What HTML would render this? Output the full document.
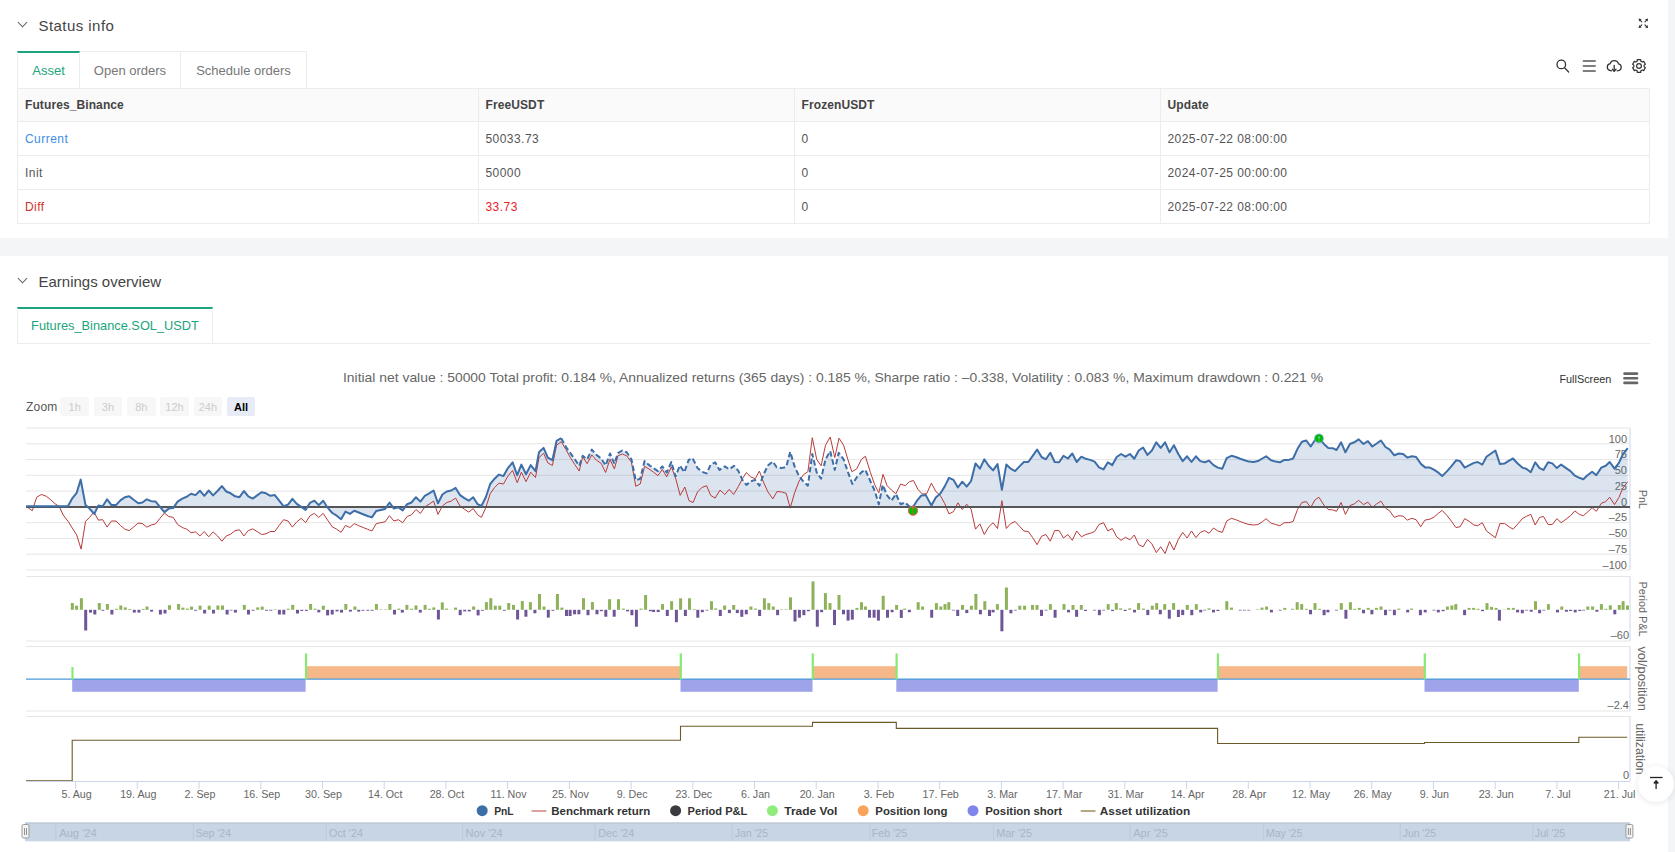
<!DOCTYPE html>
<html><head><meta charset="utf-8">
<style>
*{margin:0;padding:0;box-sizing:border-box}
html,body{width:1675px;height:852px;overflow:hidden;background:#fff;font-family:"Liberation Sans",sans-serif;color:#333}
.abs{position:absolute}
.strip{left:1668px;top:0;width:7px;height:852px;background:#f4f5f7}
.band{left:0;top:238px;width:1668px;height:18px;background:#f4f5f7}
.h{font-size:15px;letter-spacing:0.45px;color:#444;white-space:nowrap}
.chev{width:7px;height:7px;border-right:1.2px solid #666;border-bottom:1.2px solid #666;transform:rotate(45deg)}
.tab{top:51px;height:38px;border:1px solid #ececec;border-bottom:none;font-size:13px;color:#777;text-align:center;line-height:37px;white-space:nowrap}
.tab.act{border-top:2px solid #1aa57c;color:#1aa57c;line-height:35px}
table{position:absolute;left:17px;top:88px;width:1633px;border-collapse:collapse;font-size:12px;table-layout:fixed}
td{border:1px solid #ececec;height:34px;padding:0 0 0 7px;color:#555;white-space:nowrap;letter-spacing:0.45px}
tr.hd td{background:#fafafa;font-weight:bold;color:#444;height:33px;letter-spacing:0.1px}
svg text{font-family:"Liberation Sans",sans-serif}
.yl{font-size:11px;fill:#666}
.xl{font-size:10.7px;fill:#666}
.rt{font-size:12px;fill:#666}
.lg{font-size:11.5px;font-weight:bold;fill:#333}
.nv{font-size:11px;fill:#a9b6c6}
.zb{position:absolute;top:397px;height:19px;width:28.5px;background:#f7f7f7;border-radius:2px;font-size:11px;color:#ccc;text-align:center;line-height:21px}
</style></head><body>
<div class="abs strip"></div>
<div class="abs band"></div>

<div class="abs chev" style="left:19px;top:19px"></div>
<div class="abs h" style="left:38.5px;top:16.5px">Status info</div>
<div class="abs tab act" style="left:17px;width:63px">Asset</div>
<div class="abs tab" style="left:80px;width:101px;border-left:none">Open orders</div>
<div class="abs tab" style="left:181px;width:126px;border-left:none">Schedule orders</div>

<table>
<colgroup><col style="width:460.5px"><col style="width:316px"><col style="width:366px"><col></colgroup>
<tr class="hd"><td>Futures_Binance</td><td>FreeUSDT</td><td>FrozenUSDT</td><td>Update</td></tr>
<tr><td style="color:#3d8ee8">Current</td><td>50033.73</td><td>0</td><td>2025-07-22 08:00:00</td></tr>
<tr><td>Init</td><td>50000</td><td>0</td><td>2024-07-25 00:00:00</td></tr>
<tr><td style="color:#d0312d">Diff</td><td style="color:#e8202a">33.73</td><td>0</td><td>2025-07-22 08:00:00</td></tr>
</table>

<svg class="abs" style="left:1550px;top:10px" width="110" height="70">
<g fill="none" stroke="#333" stroke-width="1.1" stroke-linecap="round">
<line x1="89.6" y1="9.6" x2="91.8" y2="11.8"/><line x1="97.1" y1="9.6" x2="94.9" y2="11.8"/>
<line x1="89.6" y1="17.1" x2="91.8" y2="14.9"/><line x1="97.1" y1="17.1" x2="94.9" y2="14.9"/>
</g>
<g fill="#333"><path d="M88.6,8.6 l3,0.6 l-2.4,2.4z"/><path d="M98.1,8.6 l-3,0.6 l2.4,2.4z"/><path d="M88.6,18.1 l3,-0.6 l-2.4,-2.4z"/><path d="M98.1,18.1 l-3,-0.6 l2.4,-2.4z"/></g>
<g fill="none" stroke="#333" stroke-width="1.3" stroke-linecap="round">
<circle cx="11.3" cy="54.4" r="4.3"/><line x1="14.5" y1="57.6" x2="18.6" y2="62"/>
</g>
<g stroke="#555" stroke-width="1.5"><line x1="32.8" x2="45.7" y1="51" y2="51"/><line x1="32.8" x2="45.7" y1="56" y2="56"/><line x1="32.8" x2="45.7" y1="61" y2="61"/></g>
<g fill="none" stroke="#333" stroke-width="1.3" stroke-linecap="round" stroke-linejoin="round">
<path d="M61.6,60.8 C59,60.6 57.3,59 57.3,57 C57.3,55.2 58.6,53.9 60.2,53.6 C60.8,51.6 62.6,50.7 64.3,50.7 C66.4,50.7 68,52 68.5,53.9 C70.1,54.2 71.2,55.5 71.2,57.2 C71.2,59.1 69.6,60.6 67.2,60.8"/>
<line x1="64.2" y1="55.4" x2="64.2" y2="61"/><path d="M62.4,59.3 L64.2,61.2 L66,59.3"/>
</g>
<g fill="none" stroke="#333" stroke-width="1.2" stroke-linejoin="round">
<path d="M87.17,51.13 L87.30,49.62 L90.70,49.62 L90.83,51.13 L92.30,51.98 L93.68,51.34 L95.37,54.28 L94.13,55.15 L94.13,56.85 L95.37,57.72 L93.68,60.66 L92.30,60.02 L90.83,60.87 L90.70,62.38 L87.30,62.38 L87.17,60.87 L85.70,60.02 L84.32,60.66 L82.63,57.72 L83.87,56.85 L83.87,55.15 L82.63,54.28 L84.32,51.34 L85.70,51.98Z"/>
<circle cx="89" cy="56" r="2.4"/>
</g>
</svg>


<div class="abs chev" style="left:19px;top:275px"></div>
<div class="abs h" style="left:38.5px;top:273px;letter-spacing:0">Earnings overview</div>
<div class="abs" style="left:17px;top:343px;width:1633px;height:1px;background:#ececec"></div>
<div class="abs tab act" style="left:17px;top:307px;width:196px;height:36px;background:#fff;font-size:12.8px;letter-spacing:0;line-height:33px">Futures_Binance.SOL_USDT</div>

<div class="abs" style="left:26px;top:400px;font-size:12px;color:#555;letter-spacing:0.2px">Zoom</div>
<div class="zb" style="left:60.4px">1h</div>
<div class="zb" style="left:93.7px">3h</div>
<div class="zb" style="left:127px">8h</div>
<div class="zb" style="left:160.3px">12h</div>
<div class="zb" style="left:193.6px">24h</div>
<div class="zb" style="left:226.9px;background:#e6ebf5;color:#000;font-weight:bold">All</div>

<svg class="abs" style="left:0;top:0" width="1675" height="852">
<text x="343" y="382.2" font-size="13" fill="#666" textLength="980" lengthAdjust="spacingAndGlyphs">Initial net value : 50000 Total profit: 0.184 %, Annualized returns (365 days) : 0.185 %, Sharpe ratio : &#8211;0.338, Volatility : 0.083 %, Maximum drawdown : 0.221 %</text>
<text x="1559.4" y="383.2" font-size="11.5" fill="#333" textLength="52" lengthAdjust="spacingAndGlyphs">FullScreen</text>
<g stroke="#666" stroke-width="2.6" stroke-linecap="round"><line x1="1624.5" x2="1637" y1="373.6" y2="373.6"/><line x1="1624.5" x2="1637" y1="378.2" y2="378.2"/><line x1="1624.5" x2="1637" y1="382.9" y2="382.9"/></g>
<line x1="26" x2="1630" y1="428.0" y2="428.0" stroke="#e6e6e6" stroke-width="1"/>
<line x1="26" x2="1630" y1="443.8" y2="443.8" stroke="#e6e6e6" stroke-width="1"/>
<line x1="26" x2="1630" y1="459.6" y2="459.6" stroke="#e6e6e6" stroke-width="1"/>
<line x1="26" x2="1630" y1="475.3" y2="475.3" stroke="#e6e6e6" stroke-width="1"/>
<line x1="26" x2="1630" y1="491.1" y2="491.1" stroke="#e6e6e6" stroke-width="1"/>
<line x1="26" x2="1630" y1="522.7" y2="522.7" stroke="#e6e6e6" stroke-width="1"/>
<line x1="26" x2="1630" y1="538.5" y2="538.5" stroke="#e6e6e6" stroke-width="1"/>
<line x1="26" x2="1630" y1="554.2" y2="554.2" stroke="#e6e6e6" stroke-width="1"/>
<line x1="26" x2="1630" y1="570.0" y2="570.0" stroke="#e6e6e6" stroke-width="1"/>
<text x="1627" y="442.5" text-anchor="end" class="yl">100</text>
<text x="1627" y="458.3" text-anchor="end" class="yl">75</text>
<text x="1627" y="474.1" text-anchor="end" class="yl">50</text>
<text x="1627" y="489.8" text-anchor="end" class="yl">25</text>
<text x="1627" y="505.6" text-anchor="end" class="yl">0</text>
<text x="1627" y="521.4" text-anchor="end" class="yl">&#8211;25</text>
<text x="1627" y="537.2" text-anchor="end" class="yl">&#8211;50</text>
<text x="1627" y="553.0" text-anchor="end" class="yl">&#8211;75</text>
<text x="1627" y="568.7" text-anchor="end" class="yl">&#8211;100</text>
<line x1="26" x2="1630" y1="576.5" y2="576.5" stroke="#e6e6e6" stroke-width="1"/>
<line x1="26" x2="1630" y1="641" y2="641" stroke="#e6e6e6" stroke-width="1"/>
<line x1="26" x2="1630" y1="646.5" y2="646.5" stroke="#e6e6e6" stroke-width="1"/>
<line x1="26" x2="1630" y1="711" y2="711" stroke="#e6e6e6" stroke-width="1"/>
<line x1="26" x2="1630" y1="716.5" y2="716.5" stroke="#e6e6e6" stroke-width="1"/>
<line x1="1630" x2="1630" y1="428" y2="570" stroke="#ccd6eb" stroke-width="1"/>
<line x1="1630" x2="1630" y1="576.5" y2="641" stroke="#ccd6eb" stroke-width="1"/>
<line x1="1630" x2="1630" y1="646.5" y2="711" stroke="#ccd6eb" stroke-width="1"/>
<line x1="1630" x2="1630" y1="716.5" y2="781" stroke="#ccd6eb" stroke-width="1"/>
<polygon points="26.2,506.9 26.2,506.3 67.9,506.3 71.9,498.9 76.7,492.8 80.7,479.6 85.5,505.1 89.5,508.6 94.3,513.9 98.3,505.6 102.7,506.3 107.1,499.3 111.5,505.1 116.0,505.1 120.4,500.4 124.8,497.2 129.2,496.3 133.6,499.8 138.3,503.3 142.4,502.5 146.8,499.3 151.2,501.2 155.6,501.6 160.0,506.9 164.4,512.1 168.8,508.6 173.2,508.1 177.6,501.6 182.3,498.6 186.7,496.8 191.1,493.7 195.5,495.1 199.9,490.7 204.3,495.8 208.7,490.5 213.1,495.4 217.5,491.0 221.9,486.1 226.3,491.5 230.7,493.3 235.1,496.3 239.5,497.2 243.9,491.0 248.3,496.3 252.7,498.6 257.1,495.4 261.5,492.3 266.0,493.3 270.4,495.8 274.8,495.1 279.2,500.7 283.6,506.3 288.0,504.6 292.4,498.9 296.8,503.9 301.2,506.9 305.6,509.9 310.0,502.8 314.4,500.7 318.8,505.1 323.2,500.7 327.6,507.7 332.3,513.0 336.7,515.7 341.1,519.2 345.5,511.6 349.9,513.9 354.3,510.7 358.7,512.5 363.1,514.3 367.5,516.0 371.9,517.4 376.3,510.9 380.7,509.9 385.1,509.0 389.5,502.5 393.9,508.6 398.3,507.4 402.7,510.4 407.1,504.2 411.5,502.5 416.0,497.2 420.4,501.6 424.8,495.8 429.2,493.3 433.6,490.5 438.0,503.3 442.4,494.5 446.8,491.5 451.2,490.5 455.6,487.9 460.0,495.1 464.4,498.1 468.8,500.7 473.2,497.2 477.6,504.2 481.4,506.0 485.8,497.2 490.2,484.0 494.6,478.7 499.0,474.6 503.5,476.1 507.9,468.1 512.6,462.3 517.2,475.2 521.4,464.6 526.0,474.3 530.7,465.1 535.5,471.1 539.0,452.3 543.6,447.9 547.8,457.6 552.4,460.2 556.6,440.8 561.2,438.2 566.0,447.0 570.4,453.2 574.8,459.3 579.2,465.8 582.7,455.8 587.1,459.3 591.8,449.6 596.4,454.9 601.2,458.5 605.6,465.5 610.0,453.5 614.4,463.7 617.9,453.2 622.3,450.5 626.7,452.3 631.4,459.3 635.8,480.5 640.2,478.7 644.6,461.1 649.0,465.1 653.5,468.1 657.9,471.1 662.3,466.4 666.7,472.5 671.4,462.0 675.5,476.4 679.9,465.5 684.3,472.2 688.7,459.9 692.5,458.1 697.5,468.1 701.9,471.7 706.6,473.4 710.7,464.6 715.1,462.3 719.5,469.9 724.8,466.4 729.2,469.4 734.1,465.8 738.3,470.8 742.4,479.9 746.4,484.9 750.6,481.3 755.2,479.9 759.4,485.7 763.5,474.6 767.9,465.5 772.8,461.6 776.7,467.3 781.4,468.1 786.2,466.9 790.2,451.8 794.6,466.4 799.0,476.1 803.5,481.7 807.9,485.7 812.3,454.0 816.7,472.5 821.1,478.7 825.5,459.3 830.2,451.1 834.8,469.9 838.7,452.8 843.6,459.3 847.8,471.7 852.4,484.0 857.1,476.9 861.5,472.2 865.4,469.9 870.4,481.3 874.8,491.0 878.8,504.2 882.7,484.9 887.1,495.4 891.5,500.7 895.9,494.0 900.6,504.2 905.2,502.5 909.1,506.3 912.6,507.7 917.0,500.7 921.4,495.4 925.8,495.1 931.4,505.6 935.8,497.5 940.2,493.7 944.6,486.6 949.0,477.8 953.5,479.9 957.9,487.5 962.3,481.7 966.7,486.6 971.1,481.0 975.5,463.4 979.9,468.7 984.3,459.3 988.7,465.8 993.1,470.4 997.5,464.1 1001.9,489.8 1006.3,464.6 1010.7,468.7 1015.1,471.1 1019.5,466.4 1023.9,462.0 1028.3,462.0 1032.7,455.8 1037.1,449.6 1041.5,457.0 1045.9,459.3 1050.3,452.8 1054.7,462.0 1059.1,462.3 1063.5,455.8 1067.9,458.5 1072.3,453.5 1076.7,462.0 1081.4,456.7 1085.8,458.8 1090.2,459.9 1094.6,461.6 1099.0,467.3 1103.5,469.4 1107.9,462.3 1112.3,465.1 1116.7,457.0 1121.1,454.0 1125.5,456.7 1129.9,454.0 1134.3,458.8 1138.7,450.5 1143.1,447.5 1147.5,454.9 1151.9,450.5 1156.3,442.3 1160.7,447.9 1165.1,442.3 1169.5,452.3 1173.9,445.2 1178.3,454.0 1182.7,461.1 1187.1,456.3 1191.5,462.0 1195.9,456.3 1200.3,461.1 1204.7,462.3 1209.1,460.6 1213.5,465.1 1217.9,467.6 1222.3,468.7 1226.7,458.1 1231.4,455.8 1235.8,457.0 1240.2,458.8 1244.6,460.2 1249.0,461.6 1253.5,462.0 1257.9,461.1 1262.3,458.5 1266.1,456.3 1271.1,460.2 1275.5,461.6 1279.9,462.3 1284.3,459.9 1288.7,459.9 1293.1,458.5 1297.5,448.8 1301.9,441.7 1306.3,440.5 1310.7,446.5 1315.1,440.0 1319.5,438.2 1323.9,444.0 1328.3,447.9 1332.7,448.2 1336.5,450.0 1341.1,442.3 1345.4,452.3 1349.9,444.0 1354.2,442.3 1358.7,439.4 1363.5,444.0 1367.9,441.2 1372.3,446.5 1376.7,443.5 1380.9,440.5 1385.5,447.0 1389.7,449.6 1394.3,455.3 1399.0,453.5 1403.1,454.0 1407.3,457.6 1411.9,456.3 1416.1,457.0 1421.1,464.1 1425.5,467.6 1429.9,467.6 1434.3,469.9 1438.7,472.9 1442.2,476.1 1447.1,471.1 1451.3,466.4 1456.3,460.2 1460.1,461.1 1464.7,467.6 1469.5,465.1 1473.9,462.9 1477.7,462.0 1482.3,464.6 1486.5,456.7 1491.1,453.5 1495.4,450.5 1499.9,464.1 1504.7,463.4 1509.1,460.6 1513.0,458.5 1517.9,463.7 1522.3,467.6 1526.6,469.0 1530.8,472.2 1535.2,462.3 1539.6,468.1 1543.5,469.9 1548.1,462.3 1552.3,463.4 1556.9,468.1 1561.1,464.6 1566.1,468.1 1570.5,471.1 1574.9,475.7 1579.3,477.8 1583.3,479.2 1587.5,475.2 1592.1,471.7 1596.3,475.2 1601.3,467.6 1605.7,465.8 1609.7,462.0 1614.5,468.7 1618.9,462.9 1622.7,454.6 1627.7,448.2 1627.7,506.9" fill="#3d6ea8" fill-opacity="0.18"/>
<polyline points="26.2,506.3 32.3,510.7 36.7,497.2 41.5,494.5 46.4,496.3 50.8,499.8 55.2,503.9 59.1,506.3 63.1,514.8 68.4,521.8 72.8,528.9 76.7,535.0 81.1,549.1 85.5,521.5 89.5,517.4 93.9,512.1 98.3,520.1 102.7,519.7 107.1,527.1 111.5,521.0 116.0,521.0 120.4,525.4 124.8,529.2 129.2,530.6 133.6,527.1 138.0,523.1 142.4,523.6 146.8,527.1 151.2,525.0 155.6,523.9 160.0,518.3 164.4,513.0 168.8,516.5 173.2,517.4 177.6,524.5 182.3,527.5 186.7,529.2 191.1,532.7 195.5,531.9 199.9,535.9 204.3,531.5 208.7,536.8 213.1,531.9 217.5,535.9 221.9,541.2 226.3,535.9 230.7,534.2 235.1,530.6 239.5,529.8 243.9,535.9 248.3,530.6 252.7,528.9 257.1,531.5 261.5,534.5 266.0,533.8 270.4,531.5 274.8,531.5 279.2,525.4 283.6,519.7 288.0,521.0 292.4,527.1 296.8,521.8 301.2,518.3 305.6,522.7 310.0,515.7 314.4,513.4 318.8,517.4 323.2,513.4 327.6,520.1 332.3,526.8 336.7,529.2 341.1,532.4 345.5,525.4 349.9,527.5 354.3,523.6 358.7,525.7 363.1,527.5 367.5,529.2 371.9,531.0 376.3,523.6 380.7,522.7 385.1,521.8 389.5,515.7 393.9,521.0 398.3,519.7 402.7,522.7 407.1,516.5 411.5,514.8 416.0,509.5 420.4,513.4 424.8,506.9 429.2,504.2 433.6,501.1 438.0,514.4 442.4,506.0 446.8,502.5 451.2,501.1 455.6,498.1 460.0,506.0 464.4,509.2 468.8,512.1 473.2,508.6 477.6,514.8 481.4,517.4 485.8,507.7 490.2,493.7 494.6,487.5 499.0,483.1 503.5,484.0 507.9,476.1 512.6,470.4 517.2,482.7 521.4,472.2 526.0,481.7 530.7,472.2 535.5,477.5 539.0,457.6 543.6,453.2 547.8,462.9 552.4,465.5 556.6,445.2 561.2,441.7 566.0,449.6 570.4,457.6 574.8,464.6 579.2,471.1 582.7,456.7 587.1,463.7 591.8,454.9 596.4,460.2 601.2,463.4 605.6,472.5 610.0,459.3 614.4,469.0 617.9,455.8 622.3,454.0 626.7,455.8 631.4,462.0 635.8,486.3 640.2,484.0 644.6,466.4 649.0,469.0 653.5,472.2 657.9,475.7 662.3,469.4 666.7,476.9 671.4,466.9 675.5,477.8 680.2,495.4 684.8,487.0 689.0,500.7 693.1,502.5 697.5,491.9 701.9,487.5 706.6,485.7 710.7,495.4 715.1,498.1 720.0,490.1 724.8,494.5 729.2,489.3 733.6,494.5 738.3,486.6 742.4,478.7 746.4,472.5 750.6,476.9 755.2,478.7 759.4,471.1 763.5,482.2 767.9,491.9 772.8,498.9 777.0,491.5 781.4,491.9 786.2,493.3 790.2,508.1 794.6,492.8 799.0,481.3 803.5,474.6 807.9,471.7 812.3,437.7 816.7,459.3 821.1,465.8 825.5,445.2 830.2,437.0 834.8,457.6 839.0,438.2 843.6,445.2 847.8,459.3 851.9,471.7 856.6,469.0 861.5,459.3 865.4,456.3 870.4,472.5 874.8,484.9 878.8,492.8 883.0,474.3 887.1,485.7 891.5,490.1 895.9,493.7 900.6,484.0 905.2,485.7 909.4,481.7 913.5,480.5 917.9,489.3 922.3,494.0 926.7,493.7 931.4,483.1 935.8,491.5 940.2,495.4 944.6,503.3 949.0,513.9 953.5,511.6 957.9,502.8 962.3,509.5 966.7,504.2 971.1,509.2 975.5,529.2 979.9,523.9 984.3,534.5 988.7,526.8 993.1,522.7 997.5,528.5 1001.9,500.7 1006.3,528.5 1010.7,523.6 1015.1,521.5 1019.5,526.2 1023.9,531.0 1028.3,531.5 1032.7,537.7 1037.1,544.7 1041.5,536.3 1045.9,534.5 1050.3,541.2 1054.7,530.6 1059.1,530.6 1063.5,538.0 1067.9,534.5 1072.3,540.3 1076.7,531.0 1081.4,536.8 1085.8,534.5 1090.2,533.3 1094.6,531.5 1099.0,524.5 1103.5,522.7 1107.9,531.0 1112.3,528.5 1116.7,536.8 1121.1,540.3 1125.5,537.3 1129.9,539.8 1134.3,535.0 1138.7,544.7 1143.1,546.8 1147.5,539.4 1151.9,543.8 1156.3,552.6 1160.7,546.8 1165.1,553.5 1169.5,541.5 1173.9,550.0 1178.3,539.4 1182.7,532.4 1187.1,538.0 1191.5,531.0 1195.9,537.7 1200.3,532.4 1204.7,530.6 1209.1,533.3 1213.5,528.0 1217.9,531.0 1222.3,532.4 1226.7,521.0 1231.4,518.3 1235.8,519.7 1240.2,521.5 1244.6,523.2 1249.0,524.5 1253.5,525.0 1257.9,524.5 1262.3,521.8 1266.1,518.7 1271.1,523.2 1275.5,524.5 1279.9,525.7 1284.3,522.7 1288.7,522.7 1293.1,521.5 1297.5,509.5 1301.9,502.5 1306.3,501.6 1310.7,507.4 1315.1,499.8 1318.9,497.2 1323.9,505.1 1328.3,509.5 1332.7,509.9 1336.5,511.3 1341.1,502.5 1345.4,514.4 1349.9,505.6 1354.2,503.9 1358.7,500.4 1363.5,504.6 1367.9,502.1 1372.3,507.4 1376.7,503.9 1380.9,501.1 1385.5,508.1 1389.7,510.9 1394.3,517.4 1399.0,515.7 1403.1,516.2 1407.3,520.1 1411.9,518.3 1416.1,519.7 1420.7,526.8 1424.9,520.1 1429.9,519.2 1434.3,516.9 1438.7,513.0 1442.2,510.4 1447.1,515.7 1451.3,521.0 1455.9,527.5 1460.1,526.8 1464.7,518.7 1469.5,521.5 1473.9,525.0 1477.7,525.7 1482.3,522.7 1486.5,531.0 1491.1,534.5 1495.4,537.7 1499.9,523.6 1504.7,523.6 1509.1,526.8 1513.0,529.2 1517.9,523.9 1522.3,518.7 1526.6,516.2 1530.8,514.4 1535.2,525.0 1539.6,517.4 1543.5,516.5 1548.1,524.5 1552.3,524.5 1556.9,518.7 1561.1,522.7 1566.1,519.2 1570.5,515.7 1574.9,510.9 1579.3,514.4 1583.3,515.7 1587.5,512.1 1592.1,507.7 1596.3,511.3 1601.3,503.3 1605.7,501.6 1609.7,497.2 1614.5,504.6 1618.9,497.5 1622.7,488.4 1627.7,481.7" fill="none" stroke="#b83b3b" stroke-width="1"/>
<line x1="26" x2="1630" y1="506.9" y2="506.9" stroke="#555" stroke-width="2"/>
<polyline points="26.2,506.3 67.9,506.3 71.9,498.9 76.7,492.8 80.7,479.6 85.5,505.1 89.5,508.6 94.3,513.9 98.3,505.6 102.7,506.3 107.1,499.3 111.5,505.1 116.0,505.1 120.4,500.4 124.8,497.2 129.2,496.3 133.6,499.8 138.3,503.3 142.4,502.5 146.8,499.3 151.2,501.2 155.6,501.6 160.0,506.9 164.4,512.1 168.8,508.6 173.2,508.1 177.6,501.6 182.3,498.6 186.7,496.8 191.1,493.7 195.5,495.1 199.9,490.7 204.3,495.8 208.7,490.5 213.1,495.4 217.5,491.0 221.9,486.1 226.3,491.5 230.7,493.3 235.1,496.3 239.5,497.2 243.9,491.0 248.3,496.3 252.7,498.6 257.1,495.4 261.5,492.3 266.0,493.3 270.4,495.8 274.8,495.1 279.2,500.7 283.6,506.3 288.0,504.6 292.4,498.9 296.8,503.9 301.2,506.9 305.6,509.9 310.0,502.8 314.4,500.7 318.8,505.1 323.2,500.7 327.6,507.7 332.3,513.0 336.7,515.7 341.1,519.2 345.5,511.6 349.9,513.9 354.3,510.7 358.7,512.5 363.1,514.3 367.5,516.0 371.9,517.4 376.3,510.9 380.7,509.9 385.1,509.0 389.5,502.5 393.9,508.6 398.3,507.4 402.7,510.4 407.1,504.2 411.5,502.5 416.0,497.2 420.4,501.6 424.8,495.8 429.2,493.3 433.6,490.5 438.0,503.3 442.4,494.5 446.8,491.5 451.2,490.5 455.6,487.9 460.0,495.1 464.4,498.1 468.8,500.7 473.2,497.2 477.6,504.2 481.4,506.0 485.8,497.2 490.2,484.0 494.6,478.7 499.0,474.6 503.5,476.1 507.9,468.1 512.6,462.3 517.2,475.2 521.4,464.6 526.0,474.3 530.7,465.1 535.5,471.1 539.0,452.3 543.6,447.9 547.8,457.6 552.4,460.2 556.6,440.8 561.2,438.2" fill="none" stroke="#3d6ea8" stroke-width="2" stroke-linejoin="round"/>
<polyline points="561.2,438.2 566.0,447.0 570.4,453.2 574.8,459.3 579.2,465.8 582.7,455.8 587.1,459.3 591.8,449.6 596.4,454.9 601.2,458.5 605.6,465.5 610.0,453.5 614.4,463.7 617.9,453.2 622.3,450.5 626.7,452.3 631.4,459.3 635.8,480.5 640.2,478.7 644.6,461.1 649.0,465.1 653.5,468.1 657.9,471.1 662.3,466.4 666.7,472.5 671.4,462.0 675.5,476.4 679.9,465.5 684.3,472.2 688.7,459.9 692.5,458.1 697.5,468.1 701.9,471.7 706.6,473.4 710.7,464.6 715.1,462.3 719.5,469.9 724.8,466.4 729.2,469.4 734.1,465.8 738.3,470.8 742.4,479.9 746.4,484.9 750.6,481.3 755.2,479.9 759.4,485.7 763.5,474.6 767.9,465.5 772.8,461.6 776.7,467.3 781.4,468.1 786.2,466.9 790.2,451.8 794.6,466.4 799.0,476.1 803.5,481.7 807.9,485.7 812.3,454.0 816.7,472.5 821.1,478.7 825.5,459.3 830.2,451.1 834.8,469.9 838.7,452.8 843.6,459.3 847.8,471.7 852.4,484.0 857.1,476.9 861.5,472.2 865.4,469.9 870.4,481.3 874.8,491.0 878.8,504.2 882.7,484.9 887.1,495.4 891.5,500.7 895.9,494.0 900.6,504.2 905.2,502.5 909.1,506.3 912.6,507.7" fill="none" stroke="#3d6ea8" stroke-width="2" stroke-linejoin="round" stroke-dasharray="5.5,2.8"/>
<polyline points="912.6,507.7 917.0,500.7 921.4,495.4 925.8,495.1 931.4,505.6 935.8,497.5 940.2,493.7 944.6,486.6 949.0,477.8 953.5,479.9 957.9,487.5 962.3,481.7 966.7,486.6 971.1,481.0 975.5,463.4 979.9,468.7 984.3,459.3 988.7,465.8 993.1,470.4 997.5,464.1 1001.9,489.8 1006.3,464.6 1010.7,468.7 1015.1,471.1 1019.5,466.4 1023.9,462.0 1028.3,462.0 1032.7,455.8 1037.1,449.6 1041.5,457.0 1045.9,459.3 1050.3,452.8 1054.7,462.0 1059.1,462.3 1063.5,455.8 1067.9,458.5 1072.3,453.5 1076.7,462.0 1081.4,456.7 1085.8,458.8 1090.2,459.9 1094.6,461.6 1099.0,467.3 1103.5,469.4 1107.9,462.3 1112.3,465.1 1116.7,457.0 1121.1,454.0 1125.5,456.7 1129.9,454.0 1134.3,458.8 1138.7,450.5 1143.1,447.5 1147.5,454.9 1151.9,450.5 1156.3,442.3 1160.7,447.9 1165.1,442.3 1169.5,452.3 1173.9,445.2 1178.3,454.0 1182.7,461.1 1187.1,456.3 1191.5,462.0 1195.9,456.3 1200.3,461.1 1204.7,462.3 1209.1,460.6 1213.5,465.1 1217.9,467.6 1222.3,468.7 1226.7,458.1 1231.4,455.8 1235.8,457.0 1240.2,458.8 1244.6,460.2 1249.0,461.6 1253.5,462.0 1257.9,461.1 1262.3,458.5 1266.1,456.3 1271.1,460.2 1275.5,461.6 1279.9,462.3 1284.3,459.9 1288.7,459.9 1293.1,458.5 1297.5,448.8 1301.9,441.7 1306.3,440.5 1310.7,446.5 1315.1,440.0 1319.5,438.2 1323.9,444.0 1328.3,447.9 1332.7,448.2 1336.5,450.0 1341.1,442.3 1345.4,452.3 1349.9,444.0 1354.2,442.3 1358.7,439.4 1363.5,444.0 1367.9,441.2 1372.3,446.5 1376.7,443.5 1380.9,440.5 1385.5,447.0 1389.7,449.6 1394.3,455.3 1399.0,453.5 1403.1,454.0 1407.3,457.6 1411.9,456.3 1416.1,457.0 1421.1,464.1 1425.5,467.6 1429.9,467.6 1434.3,469.9 1438.7,472.9 1442.2,476.1 1447.1,471.1 1451.3,466.4 1456.3,460.2 1460.1,461.1 1464.7,467.6 1469.5,465.1 1473.9,462.9 1477.7,462.0 1482.3,464.6 1486.5,456.7 1491.1,453.5 1495.4,450.5 1499.9,464.1 1504.7,463.4 1509.1,460.6 1513.0,458.5 1517.9,463.7 1522.3,467.6 1526.6,469.0 1530.8,472.2 1535.2,462.3 1539.6,468.1 1543.5,469.9 1548.1,462.3 1552.3,463.4 1556.9,468.1 1561.1,464.6 1566.1,468.1 1570.5,471.1 1574.9,475.7 1579.3,477.8 1583.3,479.2 1587.5,475.2 1592.1,471.7 1596.3,475.2 1601.3,467.6 1605.7,465.8 1609.7,462.0 1614.5,468.7 1618.9,462.9 1622.7,454.6 1627.7,448.2" fill="none" stroke="#3d6ea8" stroke-width="2" stroke-linejoin="round"/>
<circle cx="913" cy="510.7" r="4.6" fill="#00c000" stroke="#ff4a60" stroke-width="1"/>
<line x1="913" x2="913" y1="507" y2="515" stroke="#b06a30" stroke-width="1"/>
<circle cx="913" cy="507.8" r="0.9" fill="#ff4a60"/>
<circle cx="1319" cy="438.4" r="4.5" fill="#00bb00" stroke="#8fb0ff" stroke-width="0.7"/>
<line x1="1319" x2="1319" y1="437" y2="442.5" stroke="#6cc86c" stroke-width="0.8"/>
<circle cx="1319" cy="437.3" r="0.9" fill="#9ab8ff"/>
<rect x="70.8" y="603.0" width="3" height="6.8" fill="#8db25a"/>
<rect x="75.1" y="605.7" width="3" height="4.1" fill="#8db25a"/>
<rect x="79.9" y="598.2" width="3" height="11.6" fill="#8db25a"/>
<rect x="84.2" y="609.8" width="3" height="20.7" fill="#6e5596"/>
<rect x="89.0" y="609.8" width="3" height="2.8" fill="#6e5596"/>
<rect x="93.3" y="609.8" width="3" height="4.7" fill="#6e5596"/>
<rect x="97.8" y="603.0" width="3" height="6.8" fill="#8db25a"/>
<rect x="101.4" y="609.8" width="3" height="0.9" fill="#6e5596"/>
<rect x="105.9" y="604.0" width="3" height="5.8" fill="#8db25a"/>
<rect x="110.4" y="609.8" width="3" height="4.7" fill="#6e5596"/>
<rect x="115.0" y="608.8" width="3" height="1.0" fill="#8db25a"/>
<rect x="119.3" y="605.5" width="3" height="4.3" fill="#8db25a"/>
<rect x="123.8" y="607.4" width="3" height="2.4" fill="#8db25a"/>
<rect x="128.3" y="609.0" width="3" height="0.8" fill="#8db25a"/>
<rect x="132.8" y="609.8" width="3" height="2.8" fill="#6e5596"/>
<rect x="137.4" y="609.8" width="3" height="2.8" fill="#6e5596"/>
<rect x="141.7" y="609.0" width="3" height="0.8" fill="#8db25a"/>
<rect x="145.5" y="606.5" width="3" height="3.3" fill="#8db25a"/>
<rect x="150.1" y="609.8" width="3" height="1.8" fill="#6e5596"/>
<rect x="158.9" y="609.8" width="3" height="4.7" fill="#6e5596"/>
<rect x="163.5" y="609.8" width="3" height="3.7" fill="#6e5596"/>
<rect x="168.0" y="605.2" width="3" height="4.6" fill="#8db25a"/>
<rect x="177.1" y="604.0" width="3" height="5.8" fill="#8db25a"/>
<rect x="181.4" y="607.6" width="3" height="2.2" fill="#8db25a"/>
<rect x="185.9" y="608.6" width="3" height="1.2" fill="#8db25a"/>
<rect x="190.0" y="606.6" width="3" height="3.2" fill="#8db25a"/>
<rect x="194.1" y="609.8" width="3" height="0.9" fill="#6e5596"/>
<rect x="198.6" y="605.7" width="3" height="4.1" fill="#8db25a"/>
<rect x="203.1" y="609.8" width="3" height="3.7" fill="#6e5596"/>
<rect x="207.7" y="605.7" width="3" height="4.1" fill="#8db25a"/>
<rect x="212.0" y="609.8" width="3" height="3.7" fill="#6e5596"/>
<rect x="216.4" y="605.5" width="3" height="4.3" fill="#8db25a"/>
<rect x="221.0" y="605.5" width="3" height="4.3" fill="#8db25a"/>
<rect x="225.6" y="609.8" width="3" height="4.7" fill="#6e5596"/>
<rect x="229.6" y="609.8" width="3" height="0.7" fill="#6e5596"/>
<rect x="233.9" y="609.8" width="3" height="2.8" fill="#6e5596"/>
<rect x="242.8" y="604.9" width="3" height="4.9" fill="#8db25a"/>
<rect x="247.0" y="609.8" width="3" height="4.7" fill="#6e5596"/>
<rect x="251.6" y="609.8" width="3" height="0.9" fill="#6e5596"/>
<rect x="256.2" y="607.4" width="3" height="2.4" fill="#8db25a"/>
<rect x="260.7" y="606.6" width="3" height="3.2" fill="#8db25a"/>
<rect x="265.0" y="609.8" width="3" height="0.9" fill="#6e5596"/>
<rect x="269.3" y="609.8" width="3" height="0.9" fill="#6e5596"/>
<rect x="273.6" y="609.3" width="3" height="0.5" fill="#8db25a"/>
<rect x="277.9" y="609.8" width="3" height="4.7" fill="#6e5596"/>
<rect x="282.3" y="609.8" width="3" height="4.7" fill="#6e5596"/>
<rect x="286.7" y="608.7" width="3" height="1.1" fill="#8db25a"/>
<rect x="291.2" y="604.9" width="3" height="4.9" fill="#8db25a"/>
<rect x="296.0" y="609.8" width="3" height="3.7" fill="#6e5596"/>
<rect x="300.3" y="609.8" width="3" height="1.1" fill="#6e5596"/>
<rect x="304.9" y="609.8" width="3" height="1.1" fill="#6e5596"/>
<rect x="309.1" y="604.0" width="3" height="5.8" fill="#8db25a"/>
<rect x="313.5" y="608.7" width="3" height="1.1" fill="#8db25a"/>
<rect x="317.3" y="609.8" width="3" height="2.6" fill="#6e5596"/>
<rect x="321.8" y="605.7" width="3" height="4.1" fill="#8db25a"/>
<rect x="326.1" y="609.8" width="3" height="5.6" fill="#6e5596"/>
<rect x="330.7" y="609.8" width="3" height="4.7" fill="#6e5596"/>
<rect x="335.5" y="609.8" width="3" height="1.6" fill="#6e5596"/>
<rect x="340.0" y="609.8" width="3" height="2.8" fill="#6e5596"/>
<rect x="344.3" y="604.0" width="3" height="5.8" fill="#8db25a"/>
<rect x="348.9" y="609.8" width="3" height="1.8" fill="#6e5596"/>
<rect x="353.4" y="606.5" width="3" height="3.3" fill="#8db25a"/>
<rect x="357.2" y="609.8" width="3" height="1.8" fill="#6e5596"/>
<rect x="361.5" y="609.8" width="3" height="0.9" fill="#6e5596"/>
<rect x="366.3" y="609.8" width="3" height="0.9" fill="#6e5596"/>
<rect x="370.6" y="609.8" width="3" height="0.9" fill="#6e5596"/>
<rect x="374.9" y="604.0" width="3" height="5.8" fill="#8db25a"/>
<rect x="379.4" y="609.3" width="3" height="0.5" fill="#8db25a"/>
<rect x="383.9" y="609.3" width="3" height="0.5" fill="#8db25a"/>
<rect x="388.4" y="604.0" width="3" height="5.8" fill="#8db25a"/>
<rect x="393.0" y="609.8" width="3" height="4.7" fill="#6e5596"/>
<rect x="397.3" y="608.6" width="3" height="1.2" fill="#8db25a"/>
<rect x="400.8" y="609.8" width="3" height="2.8" fill="#6e5596"/>
<rect x="405.4" y="604.9" width="3" height="4.9" fill="#8db25a"/>
<rect x="410.0" y="608.7" width="3" height="1.1" fill="#8db25a"/>
<rect x="414.5" y="605.5" width="3" height="4.3" fill="#8db25a"/>
<rect x="418.8" y="609.8" width="3" height="2.8" fill="#6e5596"/>
<rect x="423.6" y="604.9" width="3" height="4.9" fill="#8db25a"/>
<rect x="427.9" y="608.7" width="3" height="1.1" fill="#8db25a"/>
<rect x="432.3" y="607.4" width="3" height="2.4" fill="#8db25a"/>
<rect x="436.9" y="609.8" width="3" height="9.7" fill="#6e5596"/>
<rect x="440.8" y="602.4" width="3" height="7.4" fill="#8db25a"/>
<rect x="445.1" y="608.6" width="3" height="1.2" fill="#8db25a"/>
<rect x="449.8" y="609.7" width="3" height="0.1" fill="#8db25a"/>
<rect x="454.1" y="607.6" width="3" height="2.2" fill="#8db25a"/>
<rect x="458.7" y="609.8" width="3" height="5.4" fill="#6e5596"/>
<rect x="463.2" y="609.8" width="3" height="1.6" fill="#6e5596"/>
<rect x="467.7" y="609.8" width="3" height="1.6" fill="#6e5596"/>
<rect x="472.1" y="606.5" width="3" height="3.3" fill="#8db25a"/>
<rect x="476.6" y="609.8" width="3" height="5.6" fill="#6e5596"/>
<rect x="480.9" y="609.8" width="3" height="0.9" fill="#6e5596"/>
<rect x="484.9" y="602.1" width="3" height="7.7" fill="#8db25a"/>
<rect x="489.3" y="598.2" width="3" height="11.6" fill="#8db25a"/>
<rect x="493.8" y="605.7" width="3" height="4.1" fill="#8db25a"/>
<rect x="498.3" y="605.7" width="3" height="4.1" fill="#8db25a"/>
<rect x="502.9" y="609.8" width="3" height="0.9" fill="#6e5596"/>
<rect x="507.2" y="603.0" width="3" height="6.8" fill="#8db25a"/>
<rect x="512.0" y="604.9" width="3" height="4.9" fill="#8db25a"/>
<rect x="516.1" y="609.8" width="3" height="9.7" fill="#6e5596"/>
<rect x="520.8" y="601.1" width="3" height="8.7" fill="#8db25a"/>
<rect x="524.4" y="609.8" width="3" height="6.9" fill="#6e5596"/>
<rect x="528.9" y="602.1" width="3" height="7.7" fill="#8db25a"/>
<rect x="533.4" y="609.8" width="3" height="3.5" fill="#6e5596"/>
<rect x="538.0" y="594.0" width="3" height="15.8" fill="#8db25a"/>
<rect x="542.5" y="606.5" width="3" height="3.3" fill="#8db25a"/>
<rect x="546.8" y="609.8" width="3" height="7.8" fill="#6e5596"/>
<rect x="551.4" y="609.8" width="3" height="0.9" fill="#6e5596"/>
<rect x="555.9" y="594.0" width="3" height="15.8" fill="#8db25a"/>
<rect x="560.4" y="607.6" width="3" height="2.2" fill="#8db25a"/>
<rect x="565.0" y="609.8" width="3" height="6.2" fill="#6e5596"/>
<rect x="568.6" y="609.8" width="3" height="6.2" fill="#6e5596"/>
<rect x="573.1" y="609.8" width="3" height="4.5" fill="#6e5596"/>
<rect x="577.4" y="609.8" width="3" height="4.5" fill="#6e5596"/>
<rect x="582.0" y="598.2" width="3" height="11.6" fill="#8db25a"/>
<rect x="586.5" y="609.8" width="3" height="5.4" fill="#6e5596"/>
<rect x="590.9" y="602.1" width="3" height="7.7" fill="#8db25a"/>
<rect x="595.5" y="609.8" width="3" height="4.5" fill="#6e5596"/>
<rect x="599.8" y="609.8" width="3" height="1.4" fill="#6e5596"/>
<rect x="604.3" y="609.8" width="3" height="6.9" fill="#6e5596"/>
<rect x="608.1" y="599.2" width="3" height="10.6" fill="#8db25a"/>
<rect x="612.7" y="609.8" width="3" height="6.9" fill="#6e5596"/>
<rect x="617.0" y="599.2" width="3" height="10.6" fill="#8db25a"/>
<rect x="621.8" y="608.6" width="3" height="1.2" fill="#8db25a"/>
<rect x="626.1" y="609.8" width="3" height="1.6" fill="#6e5596"/>
<rect x="630.4" y="609.8" width="3" height="5.4" fill="#6e5596"/>
<rect x="634.9" y="609.8" width="3" height="16.9" fill="#6e5596"/>
<rect x="639.5" y="608.6" width="3" height="1.2" fill="#8db25a"/>
<rect x="644.1" y="595.0" width="3" height="14.8" fill="#8db25a"/>
<rect x="648.9" y="609.8" width="3" height="1.4" fill="#6e5596"/>
<rect x="652.1" y="609.8" width="3" height="2.2" fill="#6e5596"/>
<rect x="656.7" y="609.8" width="3" height="2.2" fill="#6e5596"/>
<rect x="661.0" y="604.1" width="3" height="5.7" fill="#8db25a"/>
<rect x="665.8" y="609.8" width="3" height="6.2" fill="#6e5596"/>
<rect x="670.1" y="601.2" width="3" height="8.6" fill="#8db25a"/>
<rect x="674.9" y="609.8" width="3" height="12.4" fill="#6e5596"/>
<rect x="679.1" y="598.3" width="3" height="11.5" fill="#8db25a"/>
<rect x="683.9" y="609.8" width="3" height="6.2" fill="#6e5596"/>
<rect x="688.0" y="598.3" width="3" height="11.5" fill="#8db25a"/>
<rect x="692.8" y="609.1" width="3" height="0.7" fill="#8db25a"/>
<rect x="696.3" y="609.8" width="3" height="7.9" fill="#6e5596"/>
<rect x="700.8" y="609.8" width="3" height="2.4" fill="#6e5596"/>
<rect x="705.4" y="609.8" width="3" height="0.7" fill="#6e5596"/>
<rect x="710.0" y="601.2" width="3" height="8.6" fill="#8db25a"/>
<rect x="714.2" y="608.4" width="3" height="1.4" fill="#8db25a"/>
<rect x="718.8" y="609.8" width="3" height="6.2" fill="#6e5596"/>
<rect x="723.1" y="605.5" width="3" height="4.3" fill="#8db25a"/>
<rect x="727.9" y="609.8" width="3" height="3.3" fill="#6e5596"/>
<rect x="732.2" y="605.0" width="3" height="4.8" fill="#8db25a"/>
<rect x="735.8" y="609.8" width="3" height="3.3" fill="#6e5596"/>
<rect x="740.3" y="609.8" width="3" height="7.0" fill="#6e5596"/>
<rect x="744.8" y="609.8" width="3" height="4.5" fill="#6e5596"/>
<rect x="749.4" y="606.5" width="3" height="3.3" fill="#8db25a"/>
<rect x="753.9" y="608.6" width="3" height="1.2" fill="#8db25a"/>
<rect x="758.1" y="609.8" width="3" height="6.2" fill="#6e5596"/>
<rect x="762.9" y="598.3" width="3" height="11.5" fill="#8db25a"/>
<rect x="767.3" y="603.1" width="3" height="6.7" fill="#8db25a"/>
<rect x="771.8" y="606.5" width="3" height="3.3" fill="#8db25a"/>
<rect x="776.1" y="609.8" width="3" height="5.4" fill="#6e5596"/>
<rect x="780.0" y="609.3" width="3" height="0.5" fill="#8db25a"/>
<rect x="784.5" y="609.3" width="3" height="0.5" fill="#8db25a"/>
<rect x="789.0" y="597.4" width="3" height="12.4" fill="#8db25a"/>
<rect x="793.5" y="609.8" width="3" height="11.7" fill="#6e5596"/>
<rect x="797.9" y="609.8" width="3" height="7.9" fill="#6e5596"/>
<rect x="802.4" y="609.8" width="3" height="5.4" fill="#6e5596"/>
<rect x="806.9" y="609.8" width="3" height="1.4" fill="#6e5596"/>
<rect x="811.5" y="581.4" width="3" height="28.4" fill="#8db25a"/>
<rect x="815.8" y="609.8" width="3" height="16.9" fill="#6e5596"/>
<rect x="820.1" y="609.8" width="3" height="2.4" fill="#6e5596"/>
<rect x="823.9" y="593.1" width="3" height="16.7" fill="#8db25a"/>
<rect x="828.5" y="603.1" width="3" height="6.7" fill="#8db25a"/>
<rect x="833.0" y="609.8" width="3" height="15.3" fill="#6e5596"/>
<rect x="837.5" y="595.0" width="3" height="14.8" fill="#8db25a"/>
<rect x="842.0" y="609.8" width="3" height="4.5" fill="#6e5596"/>
<rect x="846.6" y="609.8" width="3" height="10.8" fill="#6e5596"/>
<rect x="850.8" y="609.8" width="3" height="9.8" fill="#6e5596"/>
<rect x="855.4" y="607.9" width="3" height="1.9" fill="#8db25a"/>
<rect x="860.0" y="602.2" width="3" height="7.6" fill="#8db25a"/>
<rect x="864.0" y="606.5" width="3" height="3.3" fill="#8db25a"/>
<rect x="868.0" y="609.8" width="3" height="7.9" fill="#6e5596"/>
<rect x="872.6" y="609.8" width="3" height="7.9" fill="#6e5596"/>
<rect x="876.9" y="609.8" width="3" height="10.8" fill="#6e5596"/>
<rect x="881.7" y="595.8" width="3" height="14.0" fill="#8db25a"/>
<rect x="886.0" y="609.8" width="3" height="7.9" fill="#6e5596"/>
<rect x="890.6" y="609.8" width="3" height="2.4" fill="#6e5596"/>
<rect x="895.1" y="605.0" width="3" height="4.8" fill="#8db25a"/>
<rect x="899.8" y="609.8" width="3" height="8.1" fill="#6e5596"/>
<rect x="903.2" y="608.6" width="3" height="1.2" fill="#8db25a"/>
<rect x="907.9" y="609.8" width="3" height="2.4" fill="#6e5596"/>
<rect x="916.7" y="602.2" width="3" height="7.6" fill="#8db25a"/>
<rect x="921.1" y="606.5" width="3" height="3.3" fill="#8db25a"/>
<rect x="930.2" y="609.8" width="3" height="7.9" fill="#6e5596"/>
<rect x="934.9" y="603.1" width="3" height="6.7" fill="#8db25a"/>
<rect x="939.3" y="606.5" width="3" height="3.3" fill="#8db25a"/>
<rect x="943.5" y="604.1" width="3" height="5.7" fill="#8db25a"/>
<rect x="947.3" y="602.2" width="3" height="7.6" fill="#8db25a"/>
<rect x="951.9" y="609.8" width="3" height="0.7" fill="#6e5596"/>
<rect x="956.2" y="609.8" width="3" height="6.2" fill="#6e5596"/>
<rect x="961.0" y="605.0" width="3" height="4.8" fill="#8db25a"/>
<rect x="965.3" y="609.8" width="3" height="3.3" fill="#6e5596"/>
<rect x="969.9" y="605.7" width="3" height="4.1" fill="#8db25a"/>
<rect x="974.4" y="594.0" width="3" height="15.8" fill="#8db25a"/>
<rect x="978.9" y="609.8" width="3" height="4.5" fill="#6e5596"/>
<rect x="983.3" y="601.2" width="3" height="8.6" fill="#8db25a"/>
<rect x="988.0" y="609.8" width="3" height="6.2" fill="#6e5596"/>
<rect x="991.6" y="609.8" width="3" height="2.6" fill="#6e5596"/>
<rect x="995.9" y="604.1" width="3" height="5.7" fill="#8db25a"/>
<rect x="1000.4" y="609.8" width="3" height="21.5" fill="#6e5596"/>
<rect x="1004.9" y="587.5" width="3" height="22.3" fill="#8db25a"/>
<rect x="1009.4" y="609.8" width="3" height="3.5" fill="#6e5596"/>
<rect x="1013.8" y="609.8" width="3" height="0.7" fill="#6e5596"/>
<rect x="1018.3" y="605.7" width="3" height="4.1" fill="#8db25a"/>
<rect x="1023.1" y="605.7" width="3" height="4.1" fill="#8db25a"/>
<rect x="1031.0" y="605.0" width="3" height="4.8" fill="#8db25a"/>
<rect x="1035.5" y="605.0" width="3" height="4.8" fill="#8db25a"/>
<rect x="1040.0" y="609.8" width="3" height="6.2" fill="#6e5596"/>
<rect x="1044.6" y="609.8" width="3" height="0.7" fill="#6e5596"/>
<rect x="1048.9" y="604.1" width="3" height="5.7" fill="#8db25a"/>
<rect x="1053.6" y="609.8" width="3" height="7.9" fill="#6e5596"/>
<rect x="1062.5" y="604.1" width="3" height="5.7" fill="#8db25a"/>
<rect x="1067.0" y="609.8" width="3" height="2.6" fill="#6e5596"/>
<rect x="1071.5" y="605.0" width="3" height="4.8" fill="#8db25a"/>
<rect x="1075.1" y="609.8" width="3" height="7.0" fill="#6e5596"/>
<rect x="1079.8" y="605.0" width="3" height="4.8" fill="#8db25a"/>
<rect x="1084.0" y="609.8" width="3" height="1.2" fill="#6e5596"/>
<rect x="1092.9" y="609.8" width="3" height="0.7" fill="#6e5596"/>
<rect x="1097.9" y="609.8" width="3" height="5.4" fill="#6e5596"/>
<rect x="1102.1" y="609.8" width="3" height="0.7" fill="#6e5596"/>
<rect x="1106.7" y="604.1" width="3" height="5.7" fill="#8db25a"/>
<rect x="1111.0" y="609.8" width="3" height="1.2" fill="#6e5596"/>
<rect x="1114.8" y="603.1" width="3" height="6.7" fill="#8db25a"/>
<rect x="1119.1" y="608.4" width="3" height="1.4" fill="#8db25a"/>
<rect x="1123.7" y="609.8" width="3" height="1.2" fill="#6e5596"/>
<rect x="1128.2" y="608.4" width="3" height="1.4" fill="#8db25a"/>
<rect x="1133.0" y="609.8" width="3" height="2.6" fill="#6e5596"/>
<rect x="1137.1" y="603.1" width="3" height="6.7" fill="#8db25a"/>
<rect x="1141.9" y="608.6" width="3" height="1.2" fill="#8db25a"/>
<rect x="1146.3" y="609.8" width="3" height="5.3" fill="#6e5596"/>
<rect x="1150.8" y="605.7" width="3" height="4.1" fill="#8db25a"/>
<rect x="1155.2" y="603.1" width="3" height="6.7" fill="#8db25a"/>
<rect x="1158.8" y="609.8" width="3" height="4.5" fill="#6e5596"/>
<rect x="1163.2" y="604.1" width="3" height="5.7" fill="#8db25a"/>
<rect x="1167.8" y="609.8" width="3" height="8.9" fill="#6e5596"/>
<rect x="1172.1" y="603.1" width="3" height="6.7" fill="#8db25a"/>
<rect x="1176.9" y="609.8" width="3" height="7.2" fill="#6e5596"/>
<rect x="1181.2" y="609.8" width="3" height="5.3" fill="#6e5596"/>
<rect x="1185.8" y="605.0" width="3" height="4.8" fill="#8db25a"/>
<rect x="1190.3" y="609.8" width="3" height="5.4" fill="#6e5596"/>
<rect x="1194.8" y="604.1" width="3" height="5.7" fill="#8db25a"/>
<rect x="1199.2" y="609.8" width="3" height="2.6" fill="#6e5596"/>
<rect x="1203.2" y="609.8" width="3" height="0.7" fill="#6e5596"/>
<rect x="1207.5" y="608.4" width="3" height="1.4" fill="#8db25a"/>
<rect x="1212.0" y="609.8" width="3" height="2.6" fill="#6e5596"/>
<rect x="1216.4" y="609.8" width="3" height="1.2" fill="#6e5596"/>
<rect x="1225.3" y="601.2" width="3" height="8.6" fill="#8db25a"/>
<rect x="1230.0" y="607.6" width="3" height="2.2" fill="#8db25a"/>
<rect x="1238.7" y="609.8" width="3" height="0.7" fill="#6e5596"/>
<rect x="1242.9" y="609.8" width="3" height="0.7" fill="#6e5596"/>
<rect x="1247.2" y="609.8" width="3" height="0.7" fill="#6e5596"/>
<rect x="1255.9" y="609.3" width="3" height="0.5" fill="#8db25a"/>
<rect x="1260.5" y="607.6" width="3" height="2.2" fill="#8db25a"/>
<rect x="1265.1" y="606.5" width="3" height="3.3" fill="#8db25a"/>
<rect x="1269.9" y="609.8" width="3" height="2.6" fill="#6e5596"/>
<rect x="1278.7" y="609.8" width="3" height="0.7" fill="#6e5596"/>
<rect x="1283.3" y="607.9" width="3" height="1.9" fill="#8db25a"/>
<rect x="1291.1" y="608.8" width="3" height="1.0" fill="#8db25a"/>
<rect x="1295.7" y="602.2" width="3" height="7.6" fill="#8db25a"/>
<rect x="1300.2" y="604.1" width="3" height="5.7" fill="#8db25a"/>
<rect x="1304.9" y="608.8" width="3" height="1.0" fill="#8db25a"/>
<rect x="1309.0" y="609.8" width="3" height="4.5" fill="#6e5596"/>
<rect x="1313.5" y="603.1" width="3" height="6.7" fill="#8db25a"/>
<rect x="1318.0" y="608.8" width="3" height="1.0" fill="#8db25a"/>
<rect x="1322.6" y="609.8" width="3" height="5.4" fill="#6e5596"/>
<rect x="1326.4" y="609.8" width="3" height="2.6" fill="#6e5596"/>
<rect x="1335.0" y="609.8" width="3" height="0.7" fill="#6e5596"/>
<rect x="1339.8" y="603.1" width="3" height="6.7" fill="#8db25a"/>
<rect x="1344.4" y="609.8" width="3" height="8.9" fill="#6e5596"/>
<rect x="1348.9" y="602.2" width="3" height="7.6" fill="#8db25a"/>
<rect x="1353.2" y="608.8" width="3" height="1.0" fill="#8db25a"/>
<rect x="1357.8" y="607.9" width="3" height="1.9" fill="#8db25a"/>
<rect x="1362.0" y="609.8" width="3" height="3.5" fill="#6e5596"/>
<rect x="1366.7" y="607.9" width="3" height="1.9" fill="#8db25a"/>
<rect x="1370.4" y="609.8" width="3" height="4.5" fill="#6e5596"/>
<rect x="1374.9" y="607.9" width="3" height="1.9" fill="#8db25a"/>
<rect x="1379.5" y="606.5" width="3" height="3.3" fill="#8db25a"/>
<rect x="1384.0" y="609.8" width="3" height="5.4" fill="#6e5596"/>
<rect x="1388.4" y="609.8" width="3" height="0.7" fill="#6e5596"/>
<rect x="1392.9" y="609.8" width="3" height="5.4" fill="#6e5596"/>
<rect x="1397.3" y="608.6" width="3" height="1.2" fill="#8db25a"/>
<rect x="1406.2" y="609.8" width="3" height="2.6" fill="#6e5596"/>
<rect x="1410.0" y="608.6" width="3" height="1.2" fill="#8db25a"/>
<rect x="1418.9" y="609.8" width="3" height="5.4" fill="#6e5596"/>
<rect x="1423.7" y="609.8" width="3" height="2.6" fill="#6e5596"/>
<rect x="1432.5" y="609.8" width="3" height="0.7" fill="#6e5596"/>
<rect x="1436.8" y="609.8" width="3" height="2.6" fill="#6e5596"/>
<rect x="1441.6" y="609.8" width="3" height="1.4" fill="#6e5596"/>
<rect x="1445.9" y="606.5" width="3" height="3.3" fill="#8db25a"/>
<rect x="1450.4" y="605.5" width="3" height="4.3" fill="#8db25a"/>
<rect x="1454.3" y="604.1" width="3" height="5.7" fill="#8db25a"/>
<rect x="1463.1" y="609.8" width="3" height="5.4" fill="#6e5596"/>
<rect x="1467.6" y="607.9" width="3" height="1.9" fill="#8db25a"/>
<rect x="1472.1" y="607.9" width="3" height="1.9" fill="#8db25a"/>
<rect x="1476.6" y="608.8" width="3" height="1.0" fill="#8db25a"/>
<rect x="1481.0" y="609.8" width="3" height="1.4" fill="#6e5596"/>
<rect x="1485.5" y="603.1" width="3" height="6.7" fill="#8db25a"/>
<rect x="1490.0" y="606.9" width="3" height="2.9" fill="#8db25a"/>
<rect x="1494.6" y="607.9" width="3" height="1.9" fill="#8db25a"/>
<rect x="1497.9" y="609.8" width="3" height="10.8" fill="#6e5596"/>
<rect x="1502.7" y="609.5" width="3" height="0.3" fill="#8db25a"/>
<rect x="1507.0" y="607.9" width="3" height="1.9" fill="#8db25a"/>
<rect x="1511.8" y="607.9" width="3" height="1.9" fill="#8db25a"/>
<rect x="1516.1" y="609.8" width="3" height="2.6" fill="#6e5596"/>
<rect x="1520.8" y="609.8" width="3" height="3.5" fill="#6e5596"/>
<rect x="1525.1" y="609.8" width="3" height="0.7" fill="#6e5596"/>
<rect x="1529.7" y="609.8" width="3" height="1.9" fill="#6e5596"/>
<rect x="1534.0" y="601.2" width="3" height="8.6" fill="#8db25a"/>
<rect x="1538.1" y="609.8" width="3" height="3.5" fill="#6e5596"/>
<rect x="1542.3" y="609.8" width="3" height="0.7" fill="#6e5596"/>
<rect x="1546.9" y="604.1" width="3" height="5.7" fill="#8db25a"/>
<rect x="1556.0" y="609.8" width="3" height="2.6" fill="#6e5596"/>
<rect x="1560.3" y="606.5" width="3" height="3.3" fill="#8db25a"/>
<rect x="1564.9" y="609.8" width="3" height="1.9" fill="#6e5596"/>
<rect x="1569.1" y="609.8" width="3" height="1.2" fill="#6e5596"/>
<rect x="1573.7" y="609.8" width="3" height="2.6" fill="#6e5596"/>
<rect x="1578.3" y="609.8" width="3" height="1.2" fill="#6e5596"/>
<rect x="1582.1" y="609.8" width="3" height="0.7" fill="#6e5596"/>
<rect x="1586.3" y="606.5" width="3" height="3.3" fill="#8db25a"/>
<rect x="1591.1" y="606.5" width="3" height="3.3" fill="#8db25a"/>
<rect x="1595.4" y="609.8" width="3" height="1.9" fill="#6e5596"/>
<rect x="1599.9" y="604.1" width="3" height="5.7" fill="#8db25a"/>
<rect x="1604.4" y="608.8" width="3" height="1.0" fill="#8db25a"/>
<rect x="1608.8" y="605.3" width="3" height="4.5" fill="#8db25a"/>
<rect x="1613.3" y="609.8" width="3" height="4.5" fill="#6e5596"/>
<rect x="1617.8" y="605.0" width="3" height="4.8" fill="#8db25a"/>
<rect x="1621.6" y="601.2" width="3" height="8.6" fill="#8db25a"/>
<rect x="1626.0" y="605.5" width="3" height="4.3" fill="#8db25a"/>
<text x="1629" y="639" text-anchor="end" class="yl">&#8211;60</text>
<rect x="72.2" y="679" width="233.4" height="12.8" fill="#9fa3ea"/>
<rect x="305.8" y="666.2" width="374.7" height="12.8" fill="#f6b888"/>
<rect x="680.5" y="679" width="132.0" height="12.8" fill="#9fa3ea"/>
<rect x="812.5" y="666.2" width="83.8" height="12.8" fill="#f6b888"/>
<rect x="896.3" y="679" width="321.3" height="12.8" fill="#9fa3ea"/>
<rect x="1217.6" y="666.2" width="206.9" height="12.8" fill="#f6b888"/>
<rect x="1424.5" y="679" width="154.3" height="12.8" fill="#9fa3ea"/>
<rect x="1578.8" y="666.2" width="48.4" height="12.8" fill="#f6b888"/>
<line x1="26" x2="1630" y1="679.2" y2="679.2" stroke="#4a9ad8" stroke-width="1.3"/>
<rect x="71.4" y="667" width="2.2" height="12.5" fill="#88e872"/>
<rect x="305.0" y="653.4" width="2.2" height="26.1" fill="#88e872"/>
<rect x="679.7" y="653.4" width="2.2" height="26.1" fill="#88e872"/>
<rect x="811.7" y="653.4" width="2.2" height="26.1" fill="#88e872"/>
<rect x="895.5" y="653.4" width="2.2" height="26.1" fill="#88e872"/>
<rect x="1216.8" y="653.4" width="2.2" height="26.1" fill="#88e872"/>
<rect x="1423.7" y="653.4" width="2.2" height="26.1" fill="#88e872"/>
<rect x="1578.0" y="653.4" width="2.2" height="26.1" fill="#88e872"/>
<text x="1629" y="709" text-anchor="end" class="yl">&#8211;2.4</text>
<polyline points="26,780.8 72.2,780.8 72.2,740.3 680.5,740.3 680.5,726.3 812.5,726.3 812.5,722.4 896.3,722.4 896.3,728.4 1217.6,728.4 1217.6,743.5 1424.5,743.5 1424.5,742.5 1578.8,742.5 1578.8,737.2 1627.2,737.2" fill="none" stroke="#6b5b2a" stroke-width="1.1"/>
<text x="1629" y="779" text-anchor="end" class="yl">0</text>
<line x1="26" x2="1630" y1="781.5" y2="781.5" stroke="#ccd6eb" stroke-width="1"/>
<line x1="75.6" x2="75.6" y1="781.5" y2="789" stroke="#ccd6eb" stroke-width="1"/>
<text x="76.6" y="797.6" text-anchor="middle" class="xl">5. Aug</text>
<line x1="137.3" x2="137.3" y1="781.5" y2="789" stroke="#ccd6eb" stroke-width="1"/>
<text x="138.3" y="797.6" text-anchor="middle" class="xl">19. Aug</text>
<line x1="199.0" x2="199.0" y1="781.5" y2="789" stroke="#ccd6eb" stroke-width="1"/>
<text x="200.0" y="797.6" text-anchor="middle" class="xl">2. Sep</text>
<line x1="260.8" x2="260.8" y1="781.5" y2="789" stroke="#ccd6eb" stroke-width="1"/>
<text x="261.8" y="797.6" text-anchor="middle" class="xl">16. Sep</text>
<line x1="322.5" x2="322.5" y1="781.5" y2="789" stroke="#ccd6eb" stroke-width="1"/>
<text x="323.5" y="797.6" text-anchor="middle" class="xl">30. Sep</text>
<line x1="384.2" x2="384.2" y1="781.5" y2="789" stroke="#ccd6eb" stroke-width="1"/>
<text x="385.2" y="797.6" text-anchor="middle" class="xl">14. Oct</text>
<line x1="445.9" x2="445.9" y1="781.5" y2="789" stroke="#ccd6eb" stroke-width="1"/>
<text x="446.9" y="797.6" text-anchor="middle" class="xl">28. Oct</text>
<line x1="507.6" x2="507.6" y1="781.5" y2="789" stroke="#ccd6eb" stroke-width="1"/>
<text x="508.6" y="797.6" text-anchor="middle" class="xl">11. Nov</text>
<line x1="569.4" x2="569.4" y1="781.5" y2="789" stroke="#ccd6eb" stroke-width="1"/>
<text x="570.4" y="797.6" text-anchor="middle" class="xl">25. Nov</text>
<line x1="631.1" x2="631.1" y1="781.5" y2="789" stroke="#ccd6eb" stroke-width="1"/>
<text x="632.1" y="797.6" text-anchor="middle" class="xl">9. Dec</text>
<line x1="692.8" x2="692.8" y1="781.5" y2="789" stroke="#ccd6eb" stroke-width="1"/>
<text x="693.8" y="797.6" text-anchor="middle" class="xl">23. Dec</text>
<line x1="754.5" x2="754.5" y1="781.5" y2="789" stroke="#ccd6eb" stroke-width="1"/>
<text x="755.5" y="797.6" text-anchor="middle" class="xl">6. Jan</text>
<line x1="816.2" x2="816.2" y1="781.5" y2="789" stroke="#ccd6eb" stroke-width="1"/>
<text x="817.2" y="797.6" text-anchor="middle" class="xl">20. Jan</text>
<line x1="878.0" x2="878.0" y1="781.5" y2="789" stroke="#ccd6eb" stroke-width="1"/>
<text x="879.0" y="797.6" text-anchor="middle" class="xl">3. Feb</text>
<line x1="939.7" x2="939.7" y1="781.5" y2="789" stroke="#ccd6eb" stroke-width="1"/>
<text x="940.7" y="797.6" text-anchor="middle" class="xl">17. Feb</text>
<line x1="1001.4" x2="1001.4" y1="781.5" y2="789" stroke="#ccd6eb" stroke-width="1"/>
<text x="1002.4" y="797.6" text-anchor="middle" class="xl">3. Mar</text>
<line x1="1063.1" x2="1063.1" y1="781.5" y2="789" stroke="#ccd6eb" stroke-width="1"/>
<text x="1064.1" y="797.6" text-anchor="middle" class="xl">17. Mar</text>
<line x1="1124.8" x2="1124.8" y1="781.5" y2="789" stroke="#ccd6eb" stroke-width="1"/>
<text x="1125.8" y="797.6" text-anchor="middle" class="xl">31. Mar</text>
<line x1="1186.6" x2="1186.6" y1="781.5" y2="789" stroke="#ccd6eb" stroke-width="1"/>
<text x="1187.6" y="797.6" text-anchor="middle" class="xl">14. Apr</text>
<line x1="1248.3" x2="1248.3" y1="781.5" y2="789" stroke="#ccd6eb" stroke-width="1"/>
<text x="1249.3" y="797.6" text-anchor="middle" class="xl">28. Apr</text>
<line x1="1310.0" x2="1310.0" y1="781.5" y2="789" stroke="#ccd6eb" stroke-width="1"/>
<text x="1311.0" y="797.6" text-anchor="middle" class="xl">12. May</text>
<line x1="1371.7" x2="1371.7" y1="781.5" y2="789" stroke="#ccd6eb" stroke-width="1"/>
<text x="1372.7" y="797.6" text-anchor="middle" class="xl">26. May</text>
<line x1="1433.4" x2="1433.4" y1="781.5" y2="789" stroke="#ccd6eb" stroke-width="1"/>
<text x="1434.4" y="797.6" text-anchor="middle" class="xl">9. Jun</text>
<line x1="1495.2" x2="1495.2" y1="781.5" y2="789" stroke="#ccd6eb" stroke-width="1"/>
<text x="1496.2" y="797.6" text-anchor="middle" class="xl">23. Jun</text>
<line x1="1556.9" x2="1556.9" y1="781.5" y2="789" stroke="#ccd6eb" stroke-width="1"/>
<text x="1557.9" y="797.6" text-anchor="middle" class="xl">7. Jul</text>
<line x1="1618.6" x2="1618.6" y1="781.5" y2="789" stroke="#ccd6eb" stroke-width="1"/>
<text x="1619.6" y="797.6" text-anchor="middle" class="xl">21. Jul</text>
<text transform="translate(1639,490.1) rotate(90)" font-size="11" fill="#666" textLength="18.6" lengthAdjust="spacingAndGlyphs">PnL</text>
<text transform="translate(1639,581.6) rotate(90)" font-size="11" fill="#666" textLength="55" lengthAdjust="spacingAndGlyphs">Period P&amp;L</text>
<text transform="translate(1637.5,646.4) rotate(90)" font-size="12" fill="#666" textLength="64.5" lengthAdjust="spacingAndGlyphs">vol/position</text>
<text transform="translate(1636,723.2) rotate(90)" font-size="12" fill="#666" textLength="51.5" lengthAdjust="spacingAndGlyphs">utilization</text>
<circle cx="482.2" cy="810.7" r="5.5" fill="#3d6ea8"/>
<text x="494.2" y="815.3" class="lg" textLength="19.5" lengthAdjust="spacingAndGlyphs">PnL</text>
<line x1="531.6" x2="546.4" y1="811" y2="811" stroke="#c96a6a" stroke-width="1.3"/>
<text x="551.2" y="815.3" class="lg" textLength="99" lengthAdjust="spacingAndGlyphs">Benchmark return</text>
<circle cx="675.6" cy="810.7" r="5.5" fill="#3a3a3f"/>
<text x="687.6" y="815.3" class="lg" textLength="59.7" lengthAdjust="spacingAndGlyphs">Period P&amp;L</text>
<circle cx="772.4" cy="810.7" r="5.5" fill="#90ed7d"/>
<text x="784.3" y="815.3" class="lg" textLength="53" lengthAdjust="spacingAndGlyphs">Trade Vol</text>
<circle cx="863.2" cy="810.7" r="5.5" fill="#f7a35c"/>
<text x="875.3" y="815.3" class="lg" textLength="72.2" lengthAdjust="spacingAndGlyphs">Position long</text>
<circle cx="973" cy="810.7" r="5.5" fill="#8085e9"/>
<text x="985.2" y="815.3" class="lg" textLength="76.9" lengthAdjust="spacingAndGlyphs">Position short</text>
<line x1="1080.7" x2="1095.5" y1="811" y2="811" stroke="#8c7a45" stroke-width="1.3"/>
<text x="1099.8" y="815.3" class="lg" textLength="90.5" lengthAdjust="spacingAndGlyphs">Asset utilization</text>
<rect x="25" y="822.6" width="1605" height="18.7" fill="#c7d5e5"/>
<line x1="25" x2="1630" y1="823" y2="823" stroke="#b8c2cc" stroke-width="1"/>
<line x1="55.8" x2="55.8" y1="823" y2="841" stroke="#bccadb" stroke-width="1"/>
<text x="59.2" y="836.5" class="nv" textLength="37.5" lengthAdjust="spacingAndGlyphs">Aug '24</text>
<line x1="193.3" x2="193.3" y1="823" y2="841" stroke="#bccadb" stroke-width="1"/>
<text x="195.7" y="836.5" class="nv" textLength="35.4" lengthAdjust="spacingAndGlyphs">Sep '24</text>
<line x1="326.2" x2="326.2" y1="823" y2="841" stroke="#bccadb" stroke-width="1"/>
<text x="329.0" y="836.5" class="nv" textLength="34.0" lengthAdjust="spacingAndGlyphs">Oct '24</text>
<line x1="462.7" x2="462.7" y1="823" y2="841" stroke="#bccadb" stroke-width="1"/>
<text x="465.5" y="836.5" class="nv" textLength="37.199999999999996" lengthAdjust="spacingAndGlyphs">Nov '24</text>
<line x1="595.2" x2="595.2" y1="823" y2="841" stroke="#bccadb" stroke-width="1"/>
<text x="598.2" y="836.5" class="nv" textLength="36.099999999999994" lengthAdjust="spacingAndGlyphs">Dec '24</text>
<line x1="732.2" x2="732.2" y1="823" y2="841" stroke="#bccadb" stroke-width="1"/>
<text x="735.1" y="836.5" class="nv" textLength="32.9" lengthAdjust="spacingAndGlyphs">Jan '25</text>
<line x1="870" x2="870" y1="823" y2="841" stroke="#bccadb" stroke-width="1"/>
<text x="871.7" y="836.5" class="nv" textLength="35.5" lengthAdjust="spacingAndGlyphs">Feb '25</text>
<line x1="993.4" x2="993.4" y1="823" y2="841" stroke="#bccadb" stroke-width="1"/>
<text x="996.2" y="836.5" class="nv" textLength="35.9" lengthAdjust="spacingAndGlyphs">Mar '25</text>
<line x1="1130.2" x2="1130.2" y1="823" y2="841" stroke="#bccadb" stroke-width="1"/>
<text x="1133.2" y="836.5" class="nv" textLength="34.599999999999994" lengthAdjust="spacingAndGlyphs">Apr '25</text>
<line x1="1263.6" x2="1263.6" y1="823" y2="841" stroke="#bccadb" stroke-width="1"/>
<text x="1265.9" y="836.5" class="nv" textLength="36.4" lengthAdjust="spacingAndGlyphs">May '25</text>
<line x1="1400.2" x2="1400.2" y1="823" y2="841" stroke="#bccadb" stroke-width="1"/>
<text x="1402.8" y="836.5" class="nv" textLength="33.3" lengthAdjust="spacingAndGlyphs">Jun '25</text>
<line x1="1532.9" x2="1532.9" y1="823" y2="841" stroke="#bccadb" stroke-width="1"/>
<text x="1534.8" y="836.5" class="nv" textLength="30.5" lengthAdjust="spacingAndGlyphs">Jul '25</text>
<rect x="22.0" y="824.5" width="7" height="13.5" rx="1.5" fill="#f2f2f2" stroke="#999" stroke-width="1"/>
<line x1="24.5" x2="24.5" y1="828" y2="835" stroke="#777" stroke-width="0.8"/>
<line x1="26.5" x2="26.5" y1="828" y2="835" stroke="#777" stroke-width="0.8"/>
<rect x="1625.9" y="824.5" width="7" height="13.5" rx="1.5" fill="#f2f2f2" stroke="#999" stroke-width="1"/>
<line x1="1628.4" x2="1628.4" y1="828" y2="835" stroke="#777" stroke-width="0.8"/>
<line x1="1630.4" x2="1630.4" y1="828" y2="835" stroke="#777" stroke-width="0.8"/>
</svg>
<div class="abs" style="left:1638px;top:765.5px;width:36px;height:36px;border-radius:18px;background:#fff;box-shadow:0 1px 6px rgba(0,0,0,0.10)"></div>
<svg class="abs" style="left:1640px;top:770px" width="32" height="26"><g stroke="#222" stroke-width="1.3" fill="none"><line x1="10" x2="22.6" y1="7.5" y2="7.5"/><line x1="16.1" x2="16.1" y1="11.5" y2="19"/><path d="M13.8,13.4 L16.1,10.8 L18.4,13.4" fill="#222"/></g></svg>
</body></html>
